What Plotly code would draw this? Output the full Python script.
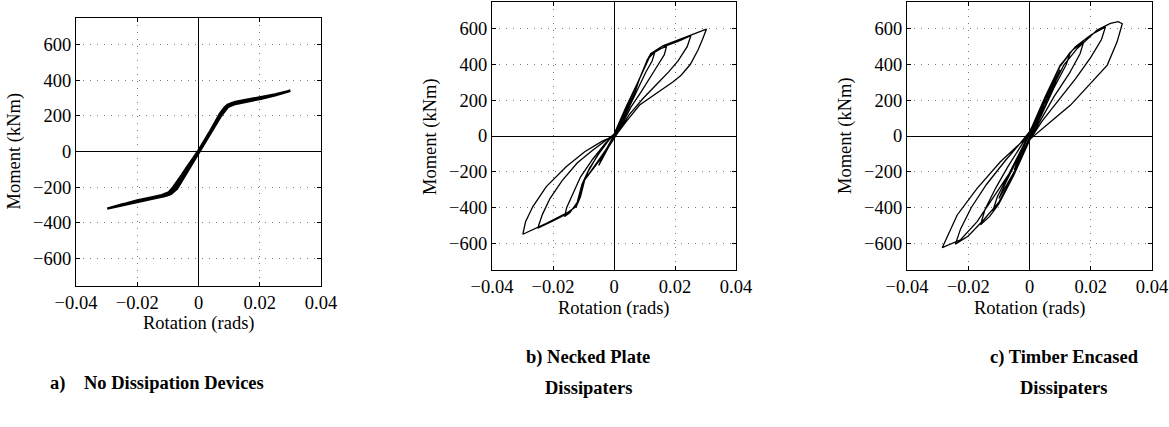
import plotly.graph_objects as go

# ---------------- data ----------------
# a) No dissipation devices: rotation (rads) and moment (kNm)
a_rot = [0, 0.003, 0.006, 0.008, 0.0093, 0.011, 0.015, 0.020, 0.015, 0.011, 0.0093, 0.008, 0.004, 0,
         -0.003, -0.006, -0.0085, -0.0097, -0.012, -0.016, -0.020, -0.016, -0.012, -0.0097, -0.0085, -0.004, 0,
         0.004, 0.007, 0.0085, 0.0095, 0.012, 0.016, 0.020, 0.025, 0.030, 0.025, 0.020, 0.016, 0.012, 0.0095, 0.008, 0.004, 0,
         -0.004, -0.007, -0.009, -0.0102, -0.013, -0.017, -0.020, -0.025, -0.0298, -0.025, -0.020, -0.016, -0.012, -0.0097, -0.008, -0.004, 0,
         0.0035, 0.0065, 0.0088, 0.010, 0.014, 0.020, 0.025, 0.020, 0.014, 0.010, 0.0088, 0.0065, 0.0035, 0,
         -0.0035, -0.0065, -0.0090, -0.011, -0.015, -0.020, -0.025, -0.020, -0.015, -0.011, -0.0090, -0.0065, -0.0035, 0]
a_mom = [0, 90, 180, 232, 258, 272, 286, 300, 280, 266, 250, 222, 108, -4,
         -88, -172, -222, -236, -250, -266, -280, -260, -244, -228, -205, -96, 6,
         118, 212, 246, 262, 277, 290, 303, 320, 340, 314, 294, 280, 266, 248, 218, 104, -8,
         -116, -208, -238, -246, -257, -272, -283, -300, -320, -296, -276, -262, -247, -228, -198, -94, 5,
         105, 196, 244, 266, 281, 298, 316, 294, 276, 258, 232, 180, 92, -3,
         -100, -192, -236, -249, -262, -279, -298, -274, -256, -242, -220, -170, -82, 3]

# b) Necked plate dissipaters
b_rot = [0, 0.0025, 0.005, 0.0035, 0.0015, 0, -0.0025, -0.005, -0.0035, -0.0015, 0,
         0.004, 0.0084, 0.007, 0.004, 0.0015, 0, -0.004, -0.0096, -0.0085, -0.006, -0.003, 0,
         0.004, 0.0084, 0.011, 0.0134, 0.0125, 0.0105, 0.008, 0.005, 0.002, 0,
         -0.004, -0.0096, -0.011, -0.0125, -0.0118, -0.0105, -0.008, -0.005, -0.002, 0,
         0.004, 0.0084, 0.0115, 0.0145, 0.0172, 0.0165, 0.0145, 0.012, 0.009, 0.0055, 0.002, 0,
         -0.004, -0.0096, -0.012, -0.0145, -0.0162, -0.0155, -0.0135, -0.011, -0.007, -0.003, 0,
         0.004, 0.0084, 0.012, 0.017, 0.021, 0.0252, 0.024, 0.021, 0.018, 0.014, 0.0095, 0.005, 0.002, 0,
         -0.004, -0.0096, -0.0125, -0.016, -0.020, -0.025, -0.0235, -0.021, -0.017, -0.012, -0.007, -0.003, 0,
         0.004, 0.0084, 0.012, 0.016, 0.020, 0.025, 0.0303, 0.029, 0.0275, 0.025, 0.022, 0.0194, 0.014, 0.0084, 0.004, 0,
         -0.004, -0.0096, -0.0124, -0.0156, -0.022, -0.0299, -0.029, -0.0266, -0.0222, -0.0156, -0.0096, -0.004, 0]
b_mom = [0, 100, 195, 125, 50, -5, -85, -165, -105, -40, 5,
         160, 322, 250, 135, 40, -10, -110, -246, -200, -125, -50, 10,
         165, 322, 430, 471, 420, 360, 270, 165, 55, -5,
         -115, -246, -340, -400, -350, -270, -180, -100, -30, 10,
         165, 322, 445, 485, 500, 455, 400, 330, 250, 160, 45, -10,
         -115, -246, -370, -430, -451, -400, -320, -230, -130, -45, 10,
         160, 322, 455, 505, 530, 561, 500, 420, 360, 290, 210, 120, 35, -15,
         -120, -246, -395, -440, -475, -516, -440, -350, -250, -150, -80, -30, 10,
         155, 322, 460, 505, 530, 565, 598, 540, 480, 400, 340, 304, 240, 173, 80, -10,
         -120, -246, -395, -432, -488, -550, -480, -395, -283, -171, -88, -30, 0]

# c) Timber encased dissipaters
c_rot = [0, 0.005, 0.003, 0, -0.005, -0.003, 0,
         0.005, 0.010, 0.008, 0.004, 0, -0.005, -0.010, -0.008, -0.004, 0,
         0.005, 0.010, 0.0134, 0.012, 0.008, 0.004, 0, -0.005, -0.010, -0.012, -0.0105, -0.007, -0.003, 0,
         0.005, 0.010, 0.014, 0.0177, 0.0165, 0.013, 0.008, 0.004, 0,
         -0.005, -0.010, -0.013, -0.016, -0.0145, -0.011, -0.007, -0.003, 0,
         0.005, 0.010, 0.015, 0.020, 0.0248, 0.0235, 0.020, 0.015, 0.009, 0.004, 0,
         -0.005, -0.010, -0.015, -0.020, -0.0242, -0.0225, -0.019, -0.014, -0.008, -0.003, 0,
         0.0058, 0.0112, 0.0156, 0.0221, 0.0264, 0.0290, 0.0303, 0.0286, 0.0254, 0.0205, 0.0134, 0.0069, 0,
         -0.0062, -0.0105, -0.0171, -0.0225, -0.0270, -0.0285, -0.0236, -0.0171, -0.0095, -0.003, 0]
c_mom = [0, 190, 100, -10, -190, -100, 10,
         200, 370, 280, 130, -10, -200, -350, -270, -130, 10,
         210, 390, 471, 400, 270, 120, -15, -210, -370, -420, -340, -220, -90, 15,
         210, 390, 480, 527, 460, 350, 220, 100, -20,
         -215, -380, -450, -497, -410, -290, -170, -60, 20,
         215, 395, 500, 565, 611, 540, 440, 320, 190, 80, -25,
         -215, -370, -470, -560, -605, -520, -400, -270, -140, -40, 25,
         211, 397, 490, 593, 630, 640, 628, 527, 397, 304, 173, 80, -20,
         -200, -311, -479, -581, -615, -625, -442, -293, -144, -41, 0]

x_ticks = [-0.04, -0.02, 0, 0.02, 0.04]
y_ticks = [-600, -400, -200, 0, 200, 400, 600]
x_title = "Rotation (rads)"
y_title = "Moment (kNm)"
captions = [["a)\u00a0\u00a0\u00a0\u00a0No Dissipation Devices"],
            ["b) Necked Plate", "Dissipaters"],
            ["c) Timber Encased", "Dissipaters"]]

# ---------------- layout geometry (window pixels) ----------------
W, H = 1169, 427


def px(x):
    return x / W


def py(y):
    return 1 - y / H


panels = [
    dict(rot=a_rot, mom=a_mom, x0=76, x1=321, y0=17.5, y1=285.5, lw=2.4),
    dict(rot=b_rot, mom=b_mom, x0=492, x1=736, y0=2, y1=270, lw=1.3),
    dict(rot=c_rot, mom=c_mom, x0=907, x1=1152, y0=2, y1=270, lw=1.3),
]
caption_pos = [[(157, 383)], [(588, 357), (588, 388)], [(1064, 357), (1063, 388)]]

FONT = "Liberation Serif, Times New Roman, serif"
FS = 18.5
fig = go.Figure()
annotations = []
for i, p in enumerate(panels, start=1):
    xa = "x" if i == 1 else f"x{i}"
    ya = "y" if i == 1 else f"y{i}"
    fig.add_trace(go.Scatter(x=p["rot"], y=p["mom"], mode="lines",
                             line=dict(color="black", width=p["lw"]),
                             xaxis=xa, yaxis=ya, showlegend=False, hoverinfo="skip"))
    axis_common = dict(showline=True, linecolor="black", linewidth=1, mirror="ticks",
                       ticks="inside", ticklen=4, tickcolor="black",
                       showgrid=True, gridcolor="#777777", griddash="1px,6px", gridwidth=1,
                       zeroline=True, zerolinecolor="black", zerolinewidth=1,
                       automargin=False,
                       tickfont=dict(family=FONT, size=FS, color="black"))
    fig.layout[f"xaxis{'' if i == 1 else i}"] = dict(
        axis_common, domain=[px(p["x0"]), px(p["x1"])], range=[-0.04, 0.04],
        tickvals=x_ticks, anchor=ya)
    fig.layout[f"yaxis{'' if i == 1 else i}"] = dict(
        axis_common, domain=[py(p["y1"]), py(p["y0"])], range=[-750, 750],
        tickvals=y_ticks, anchor=xa)
    # axis titles
    annotations.append(dict(text=x_title, x=px((p["x0"] + p["x1"]) / 2), y=py(p["y1"] + 38),
                            xref="paper", yref="paper", showarrow=False,
                            xanchor="center", yanchor="middle",
                            font=dict(family=FONT, size=FS, color="black")))
    annotations.append(dict(text=y_title, x=px(p["x0"] - 62), y=py((p["y0"] + p["y1"]) / 2),
                            xref="paper", yref="paper", showarrow=False, textangle=-90,
                            xanchor="center", yanchor="middle",
                            font=dict(family=FONT, size=FS, color="black")))

for lines, poss in zip(captions, caption_pos):
    for t, (cx, cy) in zip(lines, poss):
        annotations.append(dict(text=f"<b>{t}</b>", x=px(cx), y=py(cy),
                                xref="paper", yref="paper", showarrow=False,
                                xanchor="center", yanchor="middle",
                                font=dict(family=FONT, size=18.5, color="black")))

fig.update_layout(width=W, height=H,
                  margin=dict(l=0, r=0, t=0, b=0, pad=0, autoexpand=False),
                  paper_bgcolor="white", plot_bgcolor="white",
                  annotations=annotations, showlegend=False)
fig.write_html("out.html", config={"displayModeBar": False},
               post_script="document.body.style.margin='0';document.body.style.overflow='hidden';")
